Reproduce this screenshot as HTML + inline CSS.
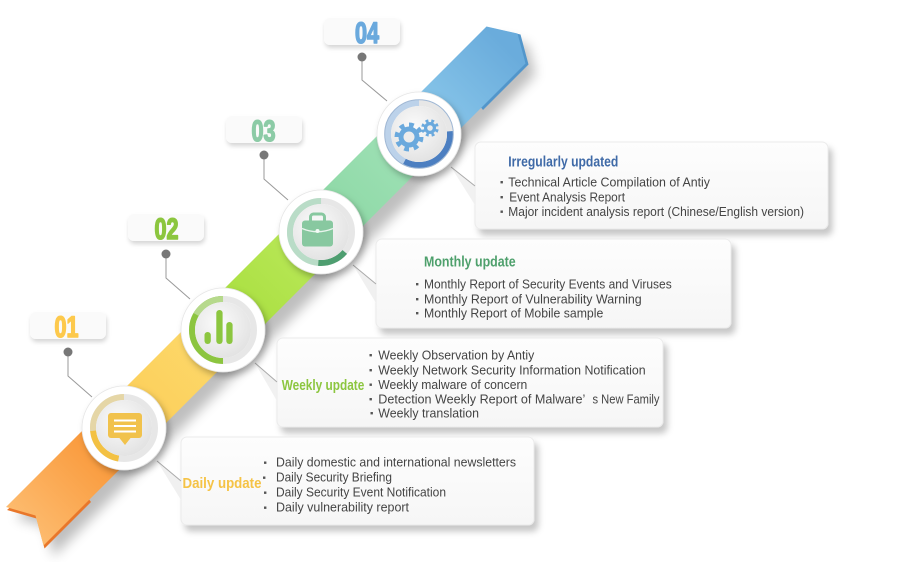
<!DOCTYPE html>
<html><head><meta charset="utf-8">
<style>
html,body{margin:0;padding:0;background:#fff;width:900px;height:562px;overflow:hidden}
svg{display:block}
text{font-family:"Liberation Sans",Arial,sans-serif}
</style></head>
<body>
<svg width="900" height="562" viewBox="0 0 900 562" xmlns="http://www.w3.org/2000/svg">
<defs>
  <filter id="bandsh" x="-20%" y="-20%" width="140%" height="140%"><feGaussianBlur stdDeviation="6"/></filter>
  <filter id="bs" x="-10%" y="-20%" width="125%" height="150%"><feDropShadow dx="4" dy="6" stdDeviation="3.2" flood-color="#000" flood-opacity="0.22"/></filter>
  <filter id="ls" x="-20%" y="-30%" width="140%" height="180%"><feDropShadow dx="1" dy="3" stdDeviation="2" flood-color="#000" flood-opacity="0.16"/></filter>
  <filter id="cs" x="-30%" y="-30%" width="170%" height="170%"><feDropShadow dx="3" dy="4" stdDeviation="3.5" flood-color="#000" flood-opacity="0.28"/></filter>
  <radialGradient id="inner" cx="0.42" cy="0.38" r="0.65"><stop offset="0" stop-color="#fbfbfb"/><stop offset="1" stop-color="#e2e2e2"/></radialGradient>
  <linearGradient id="boxg" x1="0" y1="0" x2="0" y2="1"><stop offset="0" stop-color="#fdfdfd"/><stop offset="1" stop-color="#f6f6f6"/></linearGradient>
  <linearGradient id="gO" gradientUnits="userSpaceOnUse" x1="25" y1="526" x2="124" y2="428"><stop offset="0" stop-color="#fdbb6e"/><stop offset="1" stop-color="#f88f2c"/></linearGradient>
  <linearGradient id="gY" gradientUnits="userSpaceOnUse" x1="124" y1="428" x2="223" y2="330"><stop offset="0" stop-color="#fccd58"/><stop offset="1" stop-color="#fdda6c"/></linearGradient>
  <linearGradient id="gL" gradientUnits="userSpaceOnUse" x1="223" y1="330" x2="321" y2="232"><stop offset="0" stop-color="#a7de3c"/><stop offset="1" stop-color="#bbe95c"/></linearGradient>
  <linearGradient id="gM" gradientUnits="userSpaceOnUse" x1="321" y1="232" x2="419" y2="134"><stop offset="0" stop-color="#8bd7a3"/><stop offset="1" stop-color="#a1e2b8"/></linearGradient>
  <linearGradient id="gB" gradientUnits="userSpaceOnUse" x1="419" y1="134" x2="506" y2="47"><stop offset="0" stop-color="#8ecbec"/><stop offset="1" stop-color="#6aacdc"/></linearGradient>
</defs>

<!-- band shadow -->
<polygon points="6,507 35.5,515.5 43.5,545.5 525.5,63.5 517.5,33.5 486.5,26.5" transform="translate(10,11)" fill="#000" opacity="0.25" filter="url(#bandsh)"/>

<!-- band thickness -->
<polygon points="6,507 35.5,515.5 43.5,545.5 90,499 60,460" transform="translate(1,3)" fill="#e9772a"/>
<polygon points="486.5,26.5 517.5,33.5 525.5,63.5 480,109 450,70" transform="translate(3,1)" fill="#5296cb"/>

<!-- band segments -->
<polygon points="6,507 35.5,515.5 43.5,545.5 142.5,446.5 104.5,408.5" fill="url(#gO)"/>
<polygon points="104.5,408.5 142.5,446.5 241,348 203,310" fill="url(#gY)"/>
<polygon points="203,310 241,348 339,250 301,212" fill="url(#gL)"/>
<polygon points="301,212 339,250 437,152 399,114" fill="url(#gM)"/>
<polygon points="399,114 437,152 525.5,63.5 517.5,33.5 486.5,26.5" fill="url(#gB)"/>

<!-- info boxes -->
<g filter="url(#bs)">
  <rect x="475" y="142" width="353" height="87" rx="6" fill="url(#boxg)" stroke="#ebebeb" stroke-width="1"/>
  <rect x="376" y="239" width="355" height="89" rx="6" fill="url(#boxg)" stroke="#ebebeb" stroke-width="1"/>
  <rect x="277" y="338" width="386" height="89" rx="6" fill="url(#boxg)" stroke="#ebebeb" stroke-width="1"/>
  <rect x="181" y="437" width="353" height="88" rx="6" fill="url(#boxg)" stroke="#ebebeb" stroke-width="1"/>
</g>

<!-- circle-to-box connectors -->
<g fill="#efefef" opacity="0.9">
  <polygon points="157,461 181,481 181,500"/>
  <polygon points="255,363 277,382 277,401"/>
  <polygon points="353,265 376,284 376,303"/>
  <polygon points="451,167 475,186 475,205"/>
</g>
<g stroke="#aaaaaa" stroke-width="1" fill="none">
  <line x1="157" y1="461" x2="181" y2="481"/>
  <line x1="255" y1="363" x2="277" y2="382"/>
  <line x1="353" y1="265" x2="376" y2="284"/>
  <line x1="451" y1="167" x2="475" y2="186"/>
</g>

<!-- label boxes -->
<g filter="url(#ls)" fill="#fafafa">
  <rect x="30" y="312" width="76" height="27" rx="6"/>
  <rect x="128" y="214" width="76" height="27" rx="6"/>
  <rect x="226" y="116" width="76" height="27" rx="6"/>
  <rect x="324" y="18" width="76" height="27" rx="6"/>
</g>
<g font-weight="bold" font-size="30" text-anchor="middle" stroke-width="1.6" stroke-linejoin="round">
  <text transform="translate(66.5,337) scale(0.72,1)" fill="#fdc94c" stroke="#fdc94c">01</text>
  <text transform="translate(166.5,239) scale(0.72,1)" fill="#8cc63f" stroke="#8cc63f">02</text>
  <text transform="translate(263.5,141) scale(0.72,1)" fill="#8ccba6" stroke="#8ccba6">03</text>
  <text transform="translate(367,43) scale(0.72,1)" fill="#6aa9dd" stroke="#6aa9dd">04</text>
</g>

<!-- label connectors -->
<g stroke="#9a9a9a" stroke-width="1" fill="none">
  <polyline points="68,352 68,376 92,397"/>
  <polyline points="166,254 166,278 190,299"/>
  <polyline points="264,155 264,179 288,200"/>
  <polyline points="362,57 362,80 387,101"/>
</g>
<g fill="#777">
  <circle cx="68" cy="352" r="4.5"/>
  <circle cx="166" cy="254" r="4.5"/>
  <circle cx="264" cy="155" r="4.5"/>
  <circle cx="362" cy="57" r="4.5"/>
</g>

<!-- circles -->
<g>
  <circle cx="124" cy="428" r="42" fill="#fff" stroke="#e6e6e6" stroke-width="0.8" filter="url(#cs)"/>
  <circle cx="124" cy="428" r="31" fill="none" stroke="#e7e7e7" stroke-width="6"/>
  <circle cx="124" cy="428" r="31" fill="none" stroke="#f3c143" stroke-width="6" pathLength="360" stroke-dasharray="75 400" transform="rotate(100 124 428)"/>
  <circle cx="124" cy="428" r="31" fill="none" stroke="#e5d6a6" stroke-width="6" pathLength="360" stroke-dasharray="95 400" transform="rotate(175 124 428)"/>
  <circle cx="124" cy="428" r="28" fill="url(#inner)"/>
  <rect x="108" y="413" width="34" height="25" rx="3" fill="#f1c24c"/>
  <polygon points="119,437.5 131,437.5 125,445" fill="#f1c24c"/>
  <g stroke="#fff" stroke-width="2"><line x1="114" y1="420.5" x2="136" y2="420.5"/><line x1="114" y1="426" x2="136" y2="426"/><line x1="114" y1="431.5" x2="136" y2="431.5"/></g>
</g>
<g>
  <circle cx="223" cy="330" r="42" fill="#fff" stroke="#e6e6e6" stroke-width="0.8" filter="url(#cs)"/>
  <circle cx="223" cy="330" r="31" fill="none" stroke="#e7e7e7" stroke-width="6"/>
  <circle cx="223" cy="330" r="31" fill="none" stroke="#8cc53f" stroke-width="6" pathLength="360" stroke-dasharray="180 400" transform="rotate(90 223 330)"/>
  <circle cx="223" cy="330" r="31" fill="none" stroke="#b6d98c" stroke-width="6" pathLength="360" stroke-dasharray="60 400" transform="rotate(210 223 330)"/>
  <circle cx="223" cy="330" r="28" fill="url(#inner)"/>
  <g fill="#8cc63f">
    <rect x="204.5" y="332" width="6.3" height="12" rx="3.1"/>
    <rect x="216.3" y="310" width="6.3" height="34" rx="3.1"/>
    <rect x="226.3" y="322" width="6.3" height="22" rx="3.1"/>
  </g>
</g>
<g>
  <circle cx="321" cy="232" r="42" fill="#fff" stroke="#e6e6e6" stroke-width="0.8" filter="url(#cs)"/>
  <circle cx="321" cy="232" r="31" fill="none" stroke="#e7e7e7" stroke-width="6"/>
  <circle cx="321" cy="232" r="31" fill="none" stroke="#b9dcc7" stroke-width="6" pathLength="360" stroke-dasharray="175 400" transform="rotate(95 321 232)"/>
  <circle cx="321" cy="232" r="31" fill="none" stroke="#4e9e70" stroke-width="6" pathLength="360" stroke-dasharray="55 400" transform="rotate(40 321 232)"/>
  <circle cx="321" cy="232" r="28" fill="url(#inner)"/>
  <rect x="310.5" y="214" width="14" height="10" rx="3" fill="none" stroke="#88c8a0" stroke-width="3"/>
  <rect x="302" y="220.5" width="31" height="26" rx="3" fill="#88c8a0"/>
  <path d="M302,228.5 Q317.5,235 333,228.5" fill="none" stroke="#e9f4ed" stroke-width="1.4"/>
  <circle cx="317.5" cy="231" r="2" fill="#f4faf6"/>
</g>
<g>
  <circle cx="419" cy="134" r="42" fill="#fff" stroke="#e6e6e6" stroke-width="0.8" filter="url(#cs)"/>
  <circle cx="419" cy="134" r="31" fill="none" stroke="#e7e7e7" stroke-width="6"/>
  <circle cx="419" cy="134" r="31" fill="none" stroke="#bcd2ea" stroke-width="6" pathLength="360" stroke-dasharray="152 400" transform="rotate(118 419 134)"/>
  <circle cx="419" cy="134" r="31" fill="none" stroke="#4c7fc1" stroke-width="6" pathLength="360" stroke-dasharray="123 400" transform="rotate(-5 419 134)"/>
  <circle cx="419" cy="134" r="34.3" fill="none" stroke="#9fb7d4" stroke-width="1"/>
  <circle cx="419" cy="134" r="28" fill="url(#inner)"/>
  <circle cx="409" cy="137" r="10.5" fill="#6aa9dd"/>
  <circle cx="409" cy="137" r="12" fill="none" stroke="#6aa9dd" stroke-width="5" pathLength="360" stroke-dasharray="22.5 22.5"/>
  <circle cx="409" cy="137" r="5.5" fill="#ececec"/>
  <circle cx="430" cy="128" r="6" fill="#6aa9dd"/>
  <circle cx="430" cy="128" r="7.2" fill="none" stroke="#6aa9dd" stroke-width="3.2" pathLength="360" stroke-dasharray="22.5 22.5" transform="rotate(10 430 128)"/>
  <circle cx="430" cy="128" r="2.8" fill="#ececec"/>
</g>

<!-- titles -->
<g font-weight="bold" font-size="15">
  <text x="508.3" y="166.7" fill="#3f6aa7" textLength="110" lengthAdjust="spacingAndGlyphs">Irregularly updated</text>
  <text x="424" y="266.7" fill="#4ea06c" textLength="91.7" lengthAdjust="spacingAndGlyphs">Monthly update</text>
  <text x="281.7" y="390" fill="#8cc63f" textLength="82.6" lengthAdjust="spacingAndGlyphs">Weekly update</text>
  <text x="182.5" y="488" fill="#f5c346" textLength="79" lengthAdjust="spacingAndGlyphs">Daily update</text>
</g>

<!-- bullets -->
<g fill="#555">
  <rect x="500.5" y="181" width="2.4" height="2.4"/>
  <rect x="500.5" y="196" width="2.4" height="2.4"/>
  <rect x="500.5" y="210.5" width="2.4" height="2.4"/>
  <rect x="416" y="283" width="2.4" height="2.4"/>
  <rect x="416" y="298" width="2.4" height="2.4"/>
  <rect x="416" y="312" width="2.4" height="2.4"/>
  <rect x="369.5" y="354" width="2.4" height="2.4"/>
  <rect x="369.5" y="369" width="2.4" height="2.4"/>
  <rect x="369.5" y="383.5" width="2.4" height="2.4"/>
  <rect x="369.5" y="398" width="2.4" height="2.4"/>
  <rect x="370.5" y="412" width="2.4" height="2.4"/>
  <rect x="264" y="461.5" width="2.4" height="2.4"/>
  <rect x="263" y="476.5" width="2.4" height="2.4"/>
  <rect x="264" y="491.5" width="2.4" height="2.4"/>
  <rect x="264" y="506.5" width="2.4" height="2.4"/>
</g>

<!-- item text -->
<g font-size="13" fill="#444">
  <text x="508.3" y="186.7" textLength="201.7" lengthAdjust="spacingAndGlyphs">Technical Article Compilation of Antiy</text>
  <text x="509.3" y="201.7" textLength="115.7" lengthAdjust="spacingAndGlyphs">Event Analysis Report</text>
  <text x="508.3" y="216" textLength="295.7" lengthAdjust="spacingAndGlyphs">Major incident analysis report (Chinese/English version)</text>

  <text x="424" y="288.3" textLength="247.7" lengthAdjust="spacingAndGlyphs">Monthly Report of Security Events and Viruses</text>
  <text x="424" y="303.3" textLength="217.7" lengthAdjust="spacingAndGlyphs">Monthly Report of Vulnerability Warning</text>
  <text x="424" y="317.3" textLength="179.3" lengthAdjust="spacingAndGlyphs">Monthly Report of Mobile sample</text>

  <text x="378.3" y="359.5" textLength="156" lengthAdjust="spacingAndGlyphs">Weekly Observation by Antiy</text>
  <text x="378.3" y="374.5" textLength="267.4" lengthAdjust="spacingAndGlyphs">Weekly Network Security Information Notification</text>
  <text x="378.3" y="389" textLength="149" lengthAdjust="spacingAndGlyphs">Weekly malware of concern</text>
  <text x="378.3" y="403.5" textLength="207" lengthAdjust="spacingAndGlyphs">Detection Weekly Report of Malware’</text>
  <text x="592.5" y="403.5" textLength="67" lengthAdjust="spacingAndGlyphs">s New Family</text>
  <text x="378.3" y="417.5" textLength="100.7" lengthAdjust="spacingAndGlyphs">Weekly translation</text>

  <text x="276" y="466.5" textLength="240" lengthAdjust="spacingAndGlyphs">Daily domestic and international newsletters</text>
  <text x="276" y="481.5" textLength="116" lengthAdjust="spacingAndGlyphs">Daily Security Briefing</text>
  <text x="276" y="496.5" textLength="170" lengthAdjust="spacingAndGlyphs">Daily Security Event Notification</text>
  <text x="276" y="511.5" textLength="133" lengthAdjust="spacingAndGlyphs">Daily vulnerability report</text>
</g>
</svg>
</body></html>
